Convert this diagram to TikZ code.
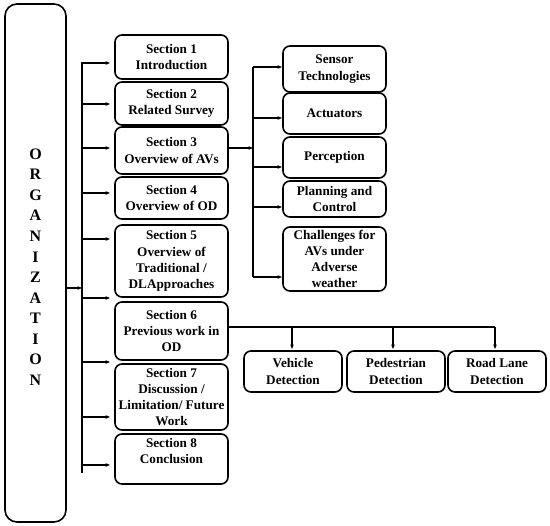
\documentclass[tikz,border=0pt]{standalone}
\usepackage{fontspec}
\setmainfont{Liberation Serif}
\usetikzlibrary{arrows.meta}
\begin{document}
\begin{tikzpicture}[x=1pt,y=-1pt,
  box/.style={draw,line width=1.6pt,rounded corners=7pt,align=center,
    font=\bfseries\fontsize{13.2}{16.2}\selectfont,inner sep=0pt},
  secbox/.style={box,minimum width=113pt},
  subbox/.style={box,minimum width=103pt},
  detbox/.style={box,minimum width=98pt,minimum height=41pt},
  conn/.style={line width=1.2pt},
  arr/.style={conn,-{Stealth[length=4.5pt,width=3.6pt]}}]
\useasboundingbox (0,0) rectangle (550,526);

% main box
\node[draw,line width=1.6pt,rounded corners=12pt,minimum width=61pt,minimum height=518pt] (org) at (35.5,263) {};
\node[align=center,font=\bfseries\fontsize{16}{20.55}\selectfont] (orgtext) at (35.5,267)
  {O\\R\\G\\A\\N\\I\\Z\\A\\T\\I\\O\\N};

% section boxes
\node[secbox,minimum height=44pt] (s1) at (171.5,57) {Section 1\\Introduction};
\node[secbox,minimum height=43pt] (s2) at (171.5,103.5) {Section 2\\Related Survey};
\node[secbox,minimum height=47pt] (s3) at (171.5,150.5) {Section 3\\Overview of AVs};
\node[secbox,minimum height=42pt] (s4) at (171.5,198) {Section 4\\Overview of OD};
\node[secbox,minimum height=72pt] (s5) at (171.5,261) {Section 5\\Overview of\\Traditional /\\DLApproaches};
\node[secbox,minimum height=58pt] (s6) at (171.5,331) {Section 6\\Previous work in\\OD};
\node[secbox,minimum height=66pt] (s7) at (171.5,397) {Section 7\\Discussion /\\Limitation/ Future\\Work};
\node[secbox,minimum height=50pt] (s8) at (171.5,459) {Section 8\\Conclusion\\\mbox{}};

% sub boxes of section 3
\node[subbox,minimum height=46pt] (a1) at (334.5,69) {Sensor\\Technologies};
\node[subbox,minimum height=41pt] (a2) at (334.5,113.5) {Actuators};
\node[subbox,minimum height=41pt] (a3) at (334.5,157.5) {Perception};
\node[subbox,minimum height=36pt] (a4) at (334.5,199) {Planning and\\Control};
\node[subbox,minimum height=64pt] (a5) at (334.5,259) {Challenges for\\AVs under\\Adverse\\weather};

% detection boxes
\node[detbox] (d1) at (293,371.5) {Vehicle\\Detection};
\node[detbox] (d2) at (396,371.5) {Pedestrian\\Detection};
\node[detbox] (d3) at (497,371.5) {Road Lane\\Detection};

% trunk from organization
\coordinate (ttop) at (82,62);
\coordinate (tbot) at (82,473);
\draw[conn] (ttop) -- (tbot);
\draw[arr] (org.east |- 0,288) -- (ttop |- 0,288);
\foreach \yy in {63,104,148,193,239,298,362,417,465}
  \draw[arr] (82,\yy) -- (110,\yy);

% section 3 branch
\coordinate (btop) at (253,67);
\coordinate (bbot) at (253,277);
\draw[conn] (btop) -- (bbot);
\draw[arr] (s3.east |- 0,148) -- (btop |- 0,148);
\foreach \yy in {67,118,167,207,277}
  \draw[arr] (253,\yy) -- (282,\yy);

% section 6 branch
\coordinate (bus) at (495,327);
\draw[conn] (s6.east |- bus) -- (bus);
\draw[arr] (292,327) -- (292,349);
\draw[arr] (393,327) -- (393,349);
\draw[arr] (495,327) -- (495,349);
\end{tikzpicture}
\end{document}
